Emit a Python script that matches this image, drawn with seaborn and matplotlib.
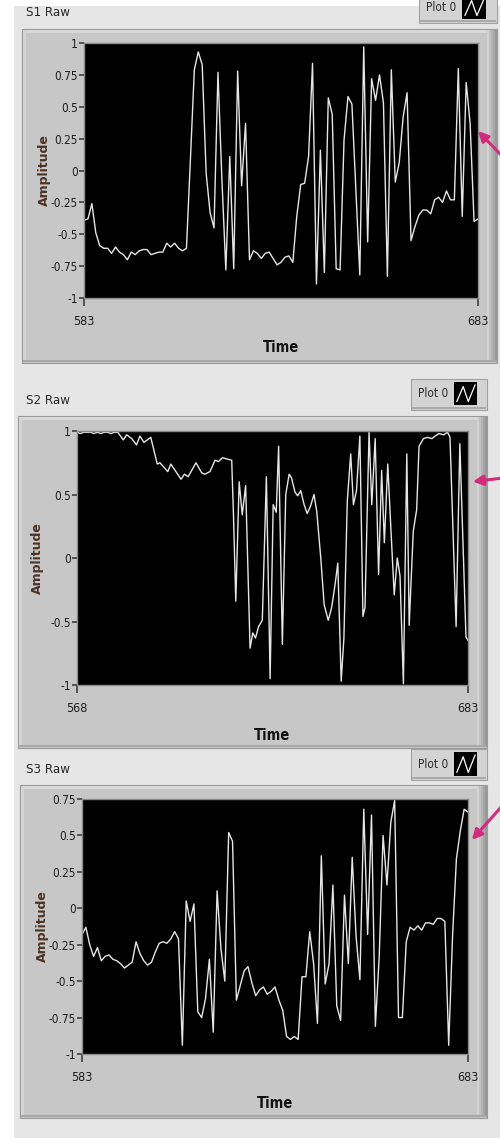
import numpy as np
import pandas as pd
import matplotlib
matplotlib.use('Agg')
import matplotlib.pyplot as plt
import seaborn as sns
from matplotlib.patches import Rectangle, FancyArrowPatch

# LabVIEW style front panel, three raw traces
sns.set_theme(style='ticks')
plt.rcParams['font.family'] = ['Liberation Sans Narrow', 'DejaVu Sans']
plt.rcParams['font.stretch'] = 'condensed'

# S1 raw, one sample per time step 583..683
s1_start = 583
s1_amp = [-0.39, -0.38, -0.26, -0.49, -0.59, -0.61, -0.61, -0.65, -0.60, -0.64,
          -0.66, -0.70, -0.64, -0.66, -0.63, -0.62, -0.62, -0.66, -0.65, -0.64,
          -0.64, -0.57, -0.60, -0.57, -0.61, -0.63, -0.61, 0.08, 0.79, 0.93,
          0.83, -0.02, -0.33, -0.45, 0.77, -0.07, -0.78, 0.11, -0.77, 0.78,
          -0.12, 0.37, -0.70, -0.63, -0.65, -0.69, -0.65, -0.64, -0.69, -0.74,
          -0.72, -0.68, -0.67, -0.72, -0.36, -0.11, -0.10, 0.11, 0.84, -0.89,
          0.16, -0.80, 0.57, 0.44, -0.77, -0.78, 0.24, 0.58, 0.52, -0.15,
          -0.82, 0.97, -0.56, 0.72, 0.55, 0.75, 0.53, -0.83, 0.79, -0.09,
          0.06, 0.42, 0.61, -0.55, -0.44, -0.35, -0.31, -0.31, -0.34, -0.23,
          -0.21, -0.25, -0.16, -0.23, -0.23, 0.80, -0.36, 0.69, 0.37, -0.40,
          -0.38]

# S2 raw, time (568..683)
s2_time = [568, 569, 570, 571, 572, 573, 574, 575, 576, 577, 578, 579, 580,
           581.6, 582.6, 584.1, 585.5, 586.5, 587.7, 589.7, 591.6, 592.4, 593.4,
           594.7, 595.6, 597.1, 598.6, 599.6, 600.7, 603.0, 604.7, 605.6, 607.1,
           608.6, 609.6, 610.8, 612.0, 613.5, 614.0, 614.7, 615.7, 616.6, 617.6,
           618.9, 619.7, 620.5, 621.4, 622.5, 623.7, 624.8, 625.7, 626.6, 627.3,
           628.4, 629.4, 630.4, 631.1, 632.1, 632.9, 633.8, 634.8, 635.7, 636.7,
           637.7, 638.5, 639.7, 640.7, 641.9, 642.9, 643.9, 644.7, 645.7, 646.5,
           647.5, 648.5, 649.3, 650.2, 651.2, 652.1, 652.7, 653.9, 654.7, 655.7,
           656.7, 657.6, 658.4, 659.4, 660.3, 661.3, 662.2, 663.0, 664.0, 665.0,
           665.7, 666.9, 667.9, 668.6, 669.9, 671.1, 672.4, 673.3, 674.5, 675.8,
           677.0, 677.7, 679.5, 680.6, 682.4, 683.0]
s2_amp = [0.99, 0.98, 0.99, 0.99, 0.99, 0.98, 0.99, 0.98, 0.99, 0.99, 0.98, 0.99, 0.99,
          0.93, 0.97, 0.94, 0.89, 0.96, 0.91, 0.95, 0.74, 0.75, 0.72,
          0.68, 0.74, 0.68, 0.62, 0.66, 0.64, 0.75, 0.67, 0.66, 0.68,
          0.77, 0.76, 0.79, 0.78, 0.77, 0.36, -0.34, 0.60, 0.34, 0.57,
          -0.71, -0.59, -0.63, -0.54, -0.49, 0.64, -0.95, 0.42, 0.36, 0.88,
          -0.68, 0.50, 0.66, 0.63, 0.52, 0.49, 0.53, 0.42, 0.35, 0.41,
          0.50, 0.37, 0.00, -0.37, -0.49, -0.39, -0.21, -0.04, -0.97, -0.63,
          0.45, 0.82, 0.42, 0.53, 0.96, -0.46, -0.39, 0.99, 0.42, 0.94,
          -0.13, 0.69, 0.12, 0.74, 0.24, -0.29, 0.00, -0.14, -0.99, 0.82,
          -0.53, 0.21, 0.38, 0.88, 0.94, 0.95, 0.94, 0.96, 0.98, 0.97,
          0.99, 0.95, -0.54, 0.90, -0.62, -0.65]

# S3 raw, one sample per time step 583..683
s3_start = 583
s3_amp = [-0.18, -0.13, -0.25, -0.33, -0.27, -0.36, -0.33, -0.32, -0.35, -0.36,
          -0.38, -0.41, -0.39, -0.37, -0.23, -0.31, -0.36, -0.39, -0.37, -0.30,
          -0.24, -0.23, -0.24, -0.21, -0.16, -0.21, -0.94, 0.05, -0.09, 0.03,
          -0.71, -0.75, -0.62, -0.35, -0.85, 0.12, -0.28, -0.50, 0.52, 0.46,
          -0.63, -0.53, -0.43, -0.40, -0.51, -0.60, -0.56, -0.54, -0.59, -0.57,
          -0.54, -0.63, -0.70, -0.88, -0.90, -0.88, -0.90, -0.47, -0.47, -0.16,
          -0.38, -0.79, 0.36, -0.52, -0.38, 0.16, -0.67, -0.77, 0.09, -0.38,
          0.35, -0.19, -0.49, 0.68, -0.18, 0.64, -0.81, -0.33, 0.50, 0.16,
          0.59, 0.74, -0.75, -0.75, -0.23, -0.13, -0.15, -0.12, -0.15, -0.10,
          -0.10, -0.11, -0.07, -0.07, -0.09, -0.94, -0.19, 0.34, 0.53, 0.68,
          0.66]

s1 = pd.DataFrame({'Time': np.arange(s1_start, s1_start + len(s1_amp)), 'Amplitude': s1_amp})
s2 = pd.DataFrame({'Time': s2_time, 'Amplitude': s2_amp})
s3 = pd.DataFrame({'Time': np.arange(s3_start, s3_start + len(s3_amp)), 'Amplitude': s3_amp})

ticks_1 = [1, 0.75, 0.5, 0.25, 0, -0.25, -0.5, -0.75, -1]
ticks_1_lab = ['1', '0.75', '0.5', '0.25', '0', '-0.25', '-0.5', '-0.75', '-1']
ticks_2 = [1, 0.5, 0, -0.5, -1]
ticks_2_lab = ['1', '0.5', '0', '-0.5', '-1']
ticks_3 = [0.75, 0.5, 0.25, 0, -0.25, -0.5, -0.75, -1]
ticks_3_lab = ['0.75', '0.5', '0.25', '0', '-0.25', '-0.5', '-0.75', '-1']

# panel layout in pixels (x0, y0, x1, y1), y measured from the top
panels = [
    dict(name='S1 Raw', data=s1, xr=(583, 683), yr=(-1, 1), yt=ticks_1, ytl=ticks_1_lab,
         title_y=12, frame=(22, 29, 497, 363), plot=(84, 43, 478, 298),
         button=(419, -6, 497, 23), glyph=(462, -4, 486, 19),
         arrow=((503, 157), (476, 129))),
    dict(name='S2 Raw', data=s2, xr=(568, 683), yr=(-1, 1), yt=ticks_2, ytl=ticks_2_lab,
         title_y=400, frame=(18, 416, 487, 748), plot=(77, 431, 468, 685),
         button=(411, 379, 487, 410), glyph=(454, 382, 477, 405),
         arrow=((503, 478), (470, 482))),
    dict(name='S3 Raw', data=s3, xr=(583, 683), yr=(-1, 0.75), yt=ticks_3, ytl=ticks_3_lab,
         title_y=769, frame=(20, 785, 487, 1118), plot=(82, 799, 468, 1054),
         button=(411, 749, 487, 780), glyph=(454, 752, 477, 776),
         arrow=((503, 805), (470, 842))),
]

W, H = 500, 1138
fig = plt.figure(figsize=(W / 100, H / 100), dpi=100)
fig.patch.set_facecolor('white')

bg = fig.add_axes([0, 0, 1, 1], zorder=0)
bg.set_xlim(0, W)
bg.set_ylim(H, 0)
bg.axis('off')
bg.add_patch(Rectangle((14, 6), W - 14, H - 6, fc='#e6e6e6', lw=0))

magenta = '#d42c7d'

for p in panels:
    fx0, fy0, fx1, fy1 = p['frame']
    # raised grey frame with a little bevel
    bg.add_patch(Rectangle((fx0, fy0), fx1 - fx0, fy1 - fy0, fc='#c7c7c7', ec='#9a9a9a', lw=0.8))
    bg.add_patch(Rectangle((fx0 + 1, fy0 + 1), fx1 - fx0 - 2, 3, fc='#d9d9d9', lw=0))
    bg.add_patch(Rectangle((fx0 + 1, fy0 + 1), 3, fy1 - fy0 - 2, fc='#d4d4d4', lw=0))
    for i, c in enumerate(['#d2d2d2', '#c2c2c2', '#b4b4b4', '#a6a6a6', '#989898']):
        bg.add_patch(Rectangle((fx1 - 10 + 2 * i, fy0 + 1), 2, fy1 - fy0 - 2, fc=c, lw=0))
    bg.add_patch(Rectangle((fx0 + 1, fy1 - 3), fx1 - fx0 - 2, 2, fc='#a8a8a8', lw=0))

    bg.text(26, p['title_y'], p['name'], fontsize=9.5, color='#2a2a2a', va='center', ha='left')

    # legend button "Plot 0"
    bx0, by0, bx1, by1 = p['button']
    bg.add_patch(Rectangle((bx0, by0), bx1 - bx0, by1 - by0, fc='#d3d3d3', ec='#a2a2a2', lw=0.8))
    bg.add_patch(Rectangle((bx0 + 1, by1 - 3), bx1 - bx0 - 2, 2, fc='#a9a9a9', lw=0))
    gx0, gy0, gx1, gy1 = p['glyph']
    bg.text((bx0 + gx0) / 2 + 1, (gy0 + gy1) / 2, 'Plot 0', fontsize=8.5, color='#2a2a2a',
            va='center', ha='center')
    bg.add_patch(Rectangle((gx0, gy0), gx1 - gx0, gy1 - gy0, fc='black', lw=0))
    gw, gh = gx1 - gx0, gy1 - gy0
    bg.plot([gx0 + 0.12 * gw, gx0 + 0.4 * gw, gx0 + 0.62 * gw, gx0 + 0.92 * gw],
            [gy0 + 0.85 * gh, gy0 + 0.2 * gh, gy0 + 0.85 * gh, gy0 + 0.12 * gh],
            color='white', lw=0.9)

    # pink pointer
    bg.add_patch(FancyArrowPatch(p['arrow'][0], p['arrow'][1], arrowstyle='-|>',
                                 mutation_scale=15, color=magenta, lw=2.2))

    # the chart itself
    x0, y0, x1, y1 = p['plot']
    ax = fig.add_axes([x0 / W, 1 - y1 / H, (x1 - x0) / W, (y1 - y0) / H], zorder=2)
    ax.set_facecolor('black')
    sns.lineplot(data=p['data'], x='Time', y='Amplitude', ax=ax, color='#e6e6e6', lw=1.0)
    ax.set_xlim(*p['xr'])
    ax.set_ylim(*p['yr'])
    ax.set_xticks(list(p['xr']))
    ax.set_xticklabels([str(v) for v in p['xr']])
    ax.set_yticks(p['yt'])
    ax.set_yticklabels(p['ytl'])
    ax.tick_params(axis='y', length=3.5, width=1.1, pad=1, labelsize=8.5, color='#333333',
                   labelcolor='#1e1e1e', left=True)
    ax.tick_params(axis='x', length=6, width=1.1, pad=6, labelsize=9, color='#333333',
                   labelcolor='#1e1e1e', bottom=True)
    for s in ax.spines.values():
        s.set_color('#8a8a8a')
        s.set_linewidth(1.0)
    pw, ph = x1 - x0, y1 - y0
    ax.set_xlabel('Time', fontsize=10.5, fontweight='bold', color='#111111')
    ax.xaxis.set_label_coords(0.5, -50 / ph)
    ax.xaxis.label.set_va('center')
    ax.set_ylabel('Amplitude', fontsize=9, fontweight='bold', color='#4d3222',
                  family='DejaVu Sans', stretch='normal')
    ax.yaxis.set_label_coords(-40 / pw, 0.5)
    ax.yaxis.label.set_va('center')

fig.savefig('out.png', dpi=100, facecolor=fig.get_facecolor())
